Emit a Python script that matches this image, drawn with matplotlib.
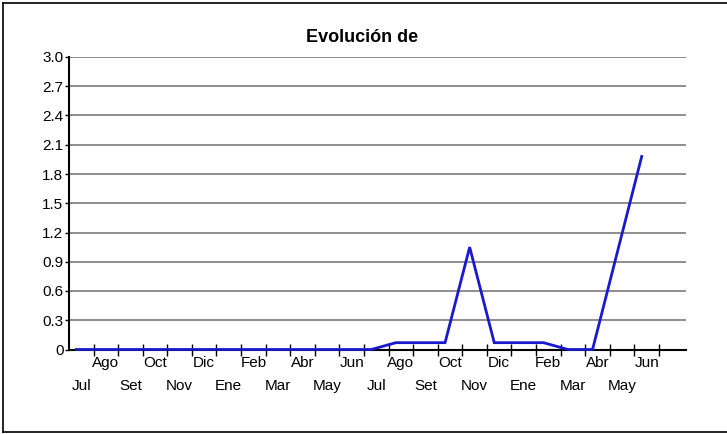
import numpy as np
import matplotlib.pyplot as plt
from matplotlib.lines import Line2D

months = ['Jul', 'Ago', 'Set', 'Oct', 'Nov', 'Dic', 'Ene', 'Feb', 'Mar', 'Abr', 'May', 'Jun'] * 2
values = [0, 0, 0, 0, 0, 0, 0, 0, 0, 0, 0, 0,
          0, 0.07, 0.07, 0.07, 1.05, 0.07, 0.07, 0.07, 0, 0, 0.99, 1.98]
yticks = [0, 0.3, 0.6, 0.9, 1.2, 1.5, 1.8, 2.1, 2.4, 2.7, 3.0]
ylabels = ['0', '0.3', '0.6', '0.9', '1.2', '1.5', '1.8', '2.1', '2.4', '2.7', '3.0']

plt.rcParams['font.family'] = ['Liberation Sans', 'DejaVu Sans']

fig = plt.figure(figsize=(7.27, 4.34), dpi=100)
ax = fig.add_axes([69/727, 84.5/434, 617/727, 292.5/434])

x = np.arange(len(values)) + 0.3
ax.plot(x, values, color='#1a1acc', lw=2, solid_joinstyle='miter', zorder=3, clip_on=False)

ax.set_xlim(0, 617/24.58)
ax.set_ylim(0, 3.0)
ax.set_yticks(yticks)
ax.set_yticklabels(ylabels, fontsize=11)
ax.yaxis.grid(True, color='#7a7a7a', lw=1.2)
ax.set_axisbelow(True)
ax.tick_params(axis='y', direction='out', length=3, width=1, pad=1)

ax.set_xticks(np.arange(1, 25))
ax.set_xticklabels([])
ax.tick_params(axis='x', direction='inout', length=8, width=1)
for i, m in enumerate(months):
    off = -0.045 if i % 2 == 1 else -0.125
    ax.text(i + 0.5, off, m, transform=ax.get_xaxis_transform(),
            ha='center', va='center', fontsize=11)

for s in ['top', 'right']:
    ax.spines[s].set_visible(False)
ax.spines['left'].set_linewidth(1.5)
ax.spines['bottom'].set_linewidth(1.5)

fig.text(362/727, 1 - 38/434, 'Evolución de', ha='center', va='center',
         fontsize=13, fontweight='bold')

# figure frame
fx0, fx1 = 2.5/727, 1.0
fy0, fy1 = 1 - 432/434, 1 - 3/434
fig.add_artist(Line2D([fx0, fx1], [fy1, fy1], color='black', lw=1.2, transform=fig.transFigure))
fig.add_artist(Line2D([fx0, fx1], [fy0, fy0], color='black', lw=1.2, transform=fig.transFigure))
fig.add_artist(Line2D([fx0, fx0], [fy0, fy1], color='black', lw=1.2, transform=fig.transFigure))

fig.savefig('out.png', dpi=100)
